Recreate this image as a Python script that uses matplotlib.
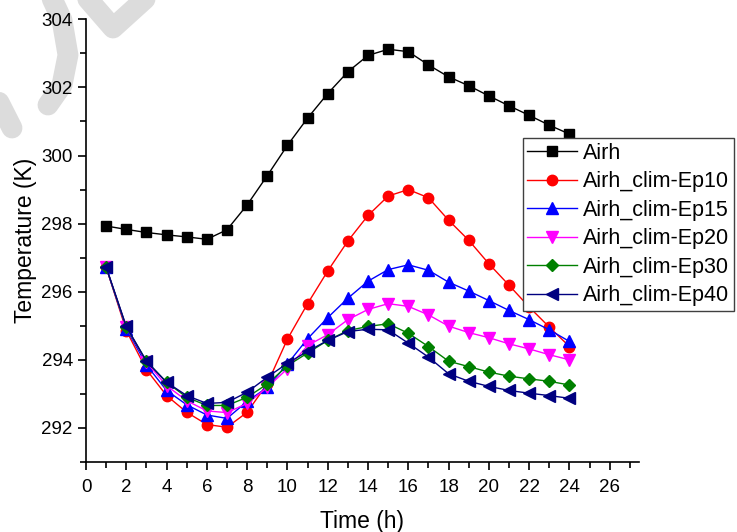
import numpy as np
import matplotlib
matplotlib.use("Agg")
import matplotlib.pyplot as plt
from matplotlib.lines import Line2D

plt.rcParams['font.family'] = ['Liberation Sans', 'DejaVu Sans']

hours = list(range(1, 25))
airh = [297.93, 297.83, 297.74, 297.67, 297.61, 297.54, 297.82, 298.55, 299.41, 300.30,
        301.10, 301.82, 302.46, 302.94, 303.12, 303.05, 302.66, 302.31, 302.05, 301.75,
        301.46, 301.18, 300.89, 300.63]
ep10 = [296.72, 294.86, 293.71, 292.95, 292.46, 292.10, 292.02, 292.46, 293.30, 294.61,
        295.65, 296.61, 297.49, 298.24, 298.81, 299.00, 298.76, 298.10, 297.51, 296.82,
        296.19, 295.55, 294.96, 294.39]
ep15 = [296.72, 294.92, 293.85, 293.10, 292.68, 292.38, 292.28, 292.78, 293.19, 293.88,
        294.62, 295.24, 295.81, 296.31, 296.65, 296.79, 296.63, 296.28, 296.02, 295.74,
        295.45, 295.18, 294.88, 294.54]
ep20 = [296.72, 294.96, 293.93, 293.24, 292.80, 292.50, 292.45, 292.72, 293.19, 293.74,
        294.42, 294.74, 295.18, 295.48, 295.65, 295.57, 295.32, 294.99, 294.80, 294.65,
        294.47, 294.32, 294.15, 294.00]
ep30 = [296.72, 294.96, 293.96, 293.34, 292.90, 292.66, 292.66, 292.90, 293.29, 293.83,
        294.20, 294.57, 294.86, 294.98, 295.06, 294.78, 294.39, 293.96, 293.80, 293.64,
        293.52, 293.44, 293.37, 293.26]
ep40 = [296.72, 294.98, 293.96, 293.34, 292.95, 292.72, 292.75, 293.05, 293.49, 293.90,
        294.25, 294.57, 294.83, 294.90, 294.88, 294.49, 294.08, 293.59, 293.37, 293.22,
        293.10, 293.02, 292.95, 292.87]

labels = ["Airh", "Airh_clim-Ep10", "Airh_clim-Ep15", "Airh_clim-Ep20",
          "Airh_clim-Ep30", "Airh_clim-Ep40"]
colors = ["black", "#ff0000", "#0000ff", "#ff00ff", "#008000", "#000080"]
markers = ["s", "o", "^", "v", "D", "<"]
msizes = [7, 7.5, 8, 8, 6.5, 8]
series = [airh, ep10, ep15, ep20, ep30, ep40]

fig = plt.figure(figsize=(7.37, 5.32), dpi=100)

# light watermark strokes
wm = dict(color="#dcdcdc", lw=15, solid_capstyle="round", transform=fig.transFigure, zorder=0)
def px(x, y):
    return x / 737, 1 - y / 532
for pts in [[(80, -10), (113, 28), (155, -10)],
            [(48, -10), (62, 20), (68, 55), (62, 85), (48, 105)],
            [(-25, 55), (12, 128)]]:
    xs, ys = zip(*[px(*p) for p in pts])
    fig.add_artist(Line2D(xs, ys, **wm))

ax = fig.add_axes([0.1167, 0.1316, 0.867 - 0.1167, 0.9637 - 0.1316])
ax.patch.set_alpha(0)

for s, lab, c, m, ms in zip(series, labels, colors, markers, msizes):
    ax.plot(hours, s, color=c, marker=m, markersize=ms, lw=1.0, label=lab,
            markeredgecolor=c)

ax.set_xlim(0, 27.45)
ax.set_ylim(291, 304)
ax.set_xticks(range(0, 27, 2))
ax.set_xticks(range(1, 28, 2), minor=True)
ax.set_yticks(range(292, 305, 2))
ax.set_yticks(range(291, 305, 2), minor=True)
ax.spines['top'].set_visible(False)
ax.spines['right'].set_visible(False)
for sp in ['left', 'bottom']:
    ax.spines[sp].set_linewidth(1.2)
ax.tick_params(which='major', direction='out', length=6, width=1.2, labelsize=13.5)
ax.tick_params(which='minor', direction='out', length=4, width=1.2)
ax.tick_params(axis='x', which='major', pad=6.5)
ax.set_xlabel("Time (h)", fontsize=16.5, labelpad=10)
ax.set_ylabel("Temperature (K)", fontsize=16.5, labelpad=3)

leg = ax.legend(loc='upper left', bbox_to_anchor=(522.7 / 737, 1 - 138.3 / 532),
                bbox_transform=fig.transFigure, fontsize=15.5, frameon=True,
                fancybox=False, borderpad=0.2, labelspacing=0.35, framealpha=1.0,
                handlelength=2.3, handletextpad=0.32, borderaxespad=0)
leg.get_frame().set_edgecolor("#404040")
leg.get_frame().set_linewidth(1.0)

fig.savefig("out.png", dpi=100)
